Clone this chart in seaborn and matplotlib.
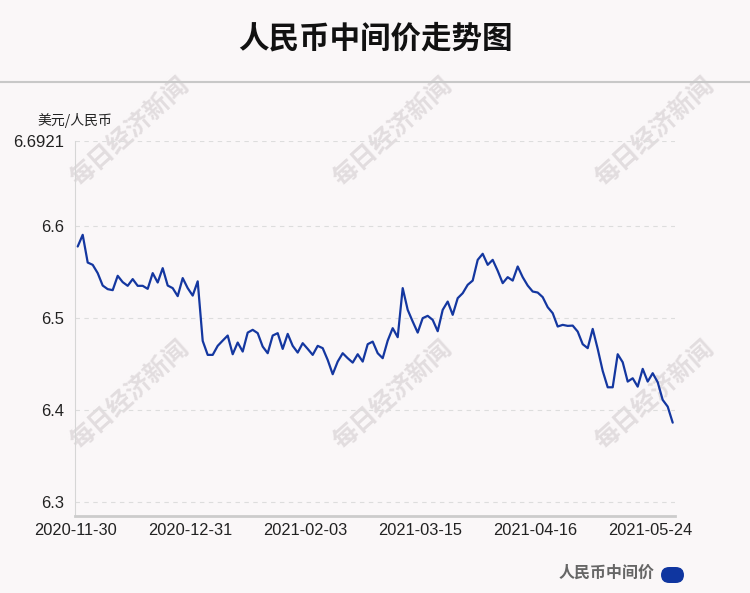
import numpy as np
import pandas as pd
import matplotlib
matplotlib.use('Agg')
import matplotlib.pyplot as plt
from matplotlib.patches import FancyBboxPatch
import seaborn as sns

# 人民币中间价 (美元/人民币), 每个交易日一个点
values = [6.5775, 6.5902, 6.5601, 6.5576, 6.5486, 6.5351, 6.5312, 6.5301, 6.5457, 6.5388,
          6.5348, 6.5421, 6.5348, 6.5348, 6.5315, 6.5486, 6.5384, 6.5540, 6.5351, 6.5323,
          6.5236, 6.5432, 6.5323, 6.5242, 6.5397, 6.4750, 6.4598, 6.4598, 6.4696, 6.4753,
          6.4808, 6.4605, 6.4732, 6.4634, 6.4840, 6.4870, 6.4834, 6.4688, 6.4616, 6.4808,
          6.4834, 6.4663, 6.4826, 6.4696, 6.4623, 6.4725, 6.4663, 6.4598, 6.4696, 6.4671,
          6.4543, 6.4388, 6.4525, 6.4616, 6.4562, 6.4514, 6.4605, 6.4525, 6.4714, 6.4742,
          6.4616, 6.4562, 6.4753, 6.4888, 6.4790, 6.5323, 6.5087, 6.4960, 6.4840, 6.4997,
          6.5022, 6.4978, 6.4855, 6.5087, 6.5177, 6.5033, 6.5214, 6.5268, 6.5359, 6.5405,
          6.5630, 6.5696, 6.5576, 6.5630, 6.5511, 6.5377, 6.5442, 6.5405, 6.5558, 6.5442,
          6.5351, 6.5286, 6.5275, 6.5225, 6.5116, 6.5051, 6.4906, 6.4924, 6.4913, 6.4916,
          6.4851, 6.4714, 6.4671, 6.4880, 6.4663, 6.4424, 6.4246, 6.4246, 6.4605, 6.4518,
          6.4308, 6.4344, 6.4253, 6.4446, 6.4308, 6.4399, 6.4301, 6.4109, 6.4036, 6.3862]

tick_labels = ['2020-11-30', '2020-12-31', '2021-02-03', '2021-03-15', '2021-04-16', '2021-05-24']
tick_step = 23
y_ticks = [6.3, 6.4, 6.5, 6.6, 6.6921]
y_tick_labels = ['6.3', '6.4', '6.5', '6.6', '6.6921']

df = pd.DataFrame({'idx': np.arange(len(values)), 'rate': values})

sns.set_theme(style='white')
plt.rcParams['font.family'] = ['Noto Sans CJK SC', 'DejaVu Sans']

bg = '#faf7f8'
line_color = '#1437a0'

fig = plt.figure(figsize=(7.5, 5.93), dpi=100, facecolor=bg)
ax = fig.add_axes([75 / 750, 1 - 516 / 593, 600 / 750, (516 - 141) / 593])
ax.set_facecolor('none')

# 标题和分隔线
fig.text(0.5, 1 - 38 / 593, '人民币中间价走势图', ha='center', va='center',
         fontsize=22, fontweight='bold', color='#111111')
fig.add_artist(plt.Line2D([0, 1], [1 - 82 / 593, 1 - 82 / 593], color='#c8c8c8', lw=1.5,
                          transform=fig.transFigure))

# 水印 (放在坐标轴下面)
for wx in [130, 393, 655]:
    for wy in [132, 395]:
        fig.text(wx / 750, 1 - wy / 593, '每日经济新闻', ha='center', va='center',
                 rotation=42, fontsize=18, fontweight='bold', color='#e2dddf', zorder=-1)

sns.lineplot(data=df, x='idx', y='rate', ax=ax, color=line_color, linewidth=1.6, zorder=3)

ax.set_xlim(-0.54, 119.46)
ax.set_ylim(6.2848, 6.6921)
ax.set_yticks(y_ticks)
ax.set_yticklabels(y_tick_labels)
# 标签放在类别格子的左边界
ax.set_xticks(np.arange(len(tick_labels)) * tick_step - 0.5)
ax.set_xticklabels(tick_labels)
ax.tick_params(axis='both', length=0, labelsize=12, colors='#222222')
ax.tick_params(axis='x', pad=5)
ax.tick_params(axis='y', pad=8)
for lab in ax.get_xticklabels() + ax.get_yticklabels():
    lab.set_family(['Liberation Sans', 'DejaVu Sans'])
for lab in ax.get_xticklabels():
    lab.set_fontsize(11.8)

ax.grid(axis='y', linestyle=(0, (4, 4)), color='#dddddd', linewidth=0.8)
ax.grid(axis='x', visible=False)
for s in ['top', 'right']:
    ax.spines[s].set_visible(False)
ax.spines['left'].set_color('#d6d6d6')
ax.spines['left'].set_linewidth(0.8)
ax.spines['bottom'].set_color('#cccccc')
ax.spines['bottom'].set_linewidth(2)
ax.set_xlabel('')
ax.set_ylabel('')

fig.text(75 / 750, 1 - 120 / 593, '美元/人民币', ha='center', va='center', fontsize=10, color='#222222')

# 图例
fig.text(655 / 750, 1 - 573 / 593, '人民币中间价', ha='right', va='center',
         fontsize=11.5, fontweight='bold', color='#666666')
fig.add_artist(FancyBboxPatch((661 / 750, 1 - 583 / 593), 23 / 750, 16 / 593,
                              boxstyle='round,pad=0,rounding_size=0.011', transform=fig.transFigure,
                              facecolor='#0f36a0', edgecolor='none', mutation_aspect=750 / 593))

fig.savefig('out.png', dpi=100, facecolor=bg)
